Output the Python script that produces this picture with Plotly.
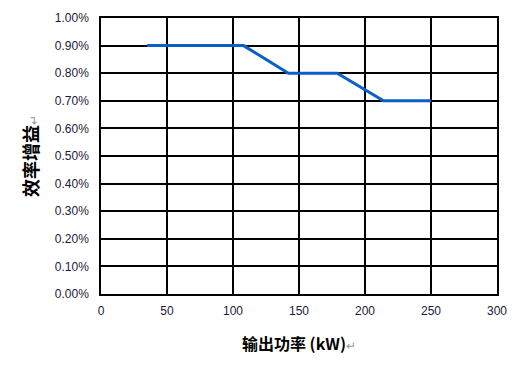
import plotly.graph_objects as go

power_kw = [35, 108, 142, 179, 214, 250]
efficiency_gain = [0.009, 0.009, 0.008, 0.008, 0.007, 0.007]
x_ticks = [0, 50, 100, 150, 200, 250, 300]
y_ticks = [i / 1000 for i in range(0, 11)]
y_tick_labels = [f"{v*100:.2f}%" for v in y_ticks]

fig = go.Figure()
fig.add_trace(go.Scatter(
    x=power_kw, y=efficiency_gain, mode="lines",
    line=dict(color="#0a5fc8", width=3), showlegend=False,
))

axis_common = dict(
    showline=True, linecolor="black", linewidth=1.5, mirror=True,
    showgrid=True, gridcolor="black", gridwidth=1.5, zeroline=False,
    tickfont=dict(family="Liberation Sans, Arial", size=12, color="#1a1a3a"),
    ticks="outside", tickcolor="rgba(0,0,0,0)",
    automargin=False,
)

fig.update_layout(
    width=523, height=368,
    margin=dict(l=93, r=34, t=10, b=82),
    plot_bgcolor="white", paper_bgcolor="white",
    xaxis=dict(range=[0, 300], tickvals=x_ticks, ticklen=5, **axis_common,
               title=dict(text="<b>输出功率 (kW)</b><span style='color:#999;font-size:12px'>↵</span>",
                          font=dict(family="Noto Sans CJK SC", size=16, color="black"),
                          standoff=22)),
    yaxis=dict(range=[0, 0.01], tickvals=y_ticks, ticktext=y_tick_labels, ticklen=8, **axis_common,
               title=dict(text="<b>效率增益</b><span style='color:#999;font-size:12px'>↵</span>",
                          font=dict(family="Noto Sans CJK SC", size=18, color="black"),
                          standoff=12)),
)

fig.write_html("out.html")
